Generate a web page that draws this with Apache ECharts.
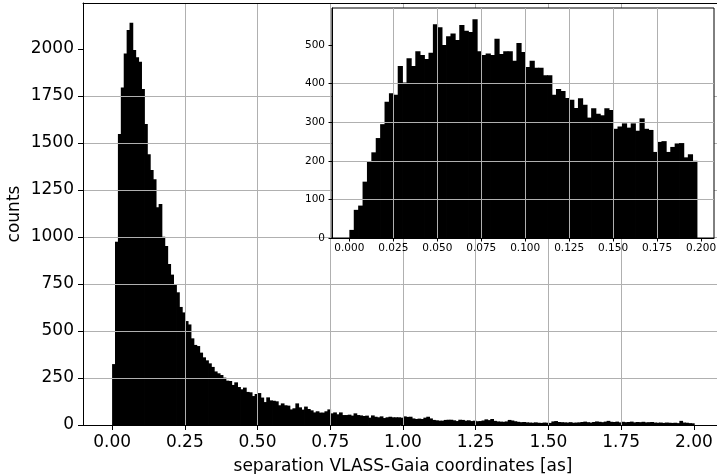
<!DOCTYPE html>
<html>
<head>
<meta charset="utf-8">
<script src="https://cdn.jsdelivr.net/npm/echarts@6/dist/echarts.min.js"></script>
<style>
  html, body { margin: 0; padding: 0; background: #fff; }
  #chart { width: 717px; height: 474px; }
</style>
</head>
<body>
<div id="chart"></div>
<script>
// main histogram: 200 bins of 0.01 from 0 to 2.0
const mainBinStart = 0;
const mainBinWidth = 0.01;
const mainCounts = [
  324, 975, 1548, 1796, 1977, 2101, 2140, 1995, 1956, 1933,
  1787, 1601, 1440, 1356, 1307, 1158, 1176, 1002, 952, 856,
  800, 748, 706, 628, 599, 553, 535, 461, 426, 420,
  385, 360, 344, 328, 309, 285, 275, 266, 252, 236,
  234, 213, 227, 202, 190, 199, 176, 174, 154, 165,
  170, 146, 122, 147, 131, 129, 126, 105, 115, 105,
  103, 83, 89, 115, 94, 82, 98, 85, 78, 67,
  73, 66, 66, 73, 83, 62, 67, 57, 67, 53,
  53, 55, 50, 62, 53, 51, 48, 50, 39, 51,
  44, 41, 46, 37, 41, 44, 41, 41, 41, 39,
  46, 43, 44, 35, 32, 34, 32, 39, 44, 35,
  27, 25, 23, 23, 27, 28, 28, 25, 21, 28,
  27, 23, 25, 21, 23, 20, 21, 24, 30, 26,
  32, 22, 19, 18, 17, 19, 27, 24, 20, 17,
  15, 16, 14, 13, 12, 14, 12, 11, 13, 12,
  11, 19, 21, 16, 15, 14, 13, 15, 12, 13,
  14, 16, 18, 15, 13, 16, 19, 17, 15, 18,
  22, 17, 16, 18, 14, 17, 15, 16, 18, 14,
  16, 15, 17, 14, 15, 16, 13, 12, 13, 11,
  13, 12, 11, 12, 10, 22, 13, 12, 10, 9
];
const mainXTicks = [0, 0.25, 0.5, 0.75, 1.0, 1.25, 1.5, 1.75, 2.0];
const mainYTicks = [0, 250, 500, 750, 1000, 1250, 1500, 1750, 2000];

// inset histogram: 79 bins of 0.0025 from 0 to 0.1975
const insetBinStart = 0;
const insetBinWidth = 0.0025;
const insetCounts = [
  21, 73, 84, 146, 197, 222, 259, 295, 353, 375, 371, 446, 403, 466, 446, 484, 474, 464, 480, 554, 546, 500, 523, 530, 513, 552,
  537, 534, 567, 484, 474, 478, 474, 516, 477, 484, 484, 459, 505, 482, 443, 459, 441, 441, 422, 422, 371, 386, 381, 363, 358, 337,
  362, 345, 312, 336, 322, 318, 336, 332, 283, 289, 297, 286, 297, 278, 310, 283, 280, 223, 249, 251, 223, 236, 245, 246, 209, 217, 200
];
const insetXTicks = [0, 0.025, 0.05, 0.075, 0.1, 0.125, 0.15, 0.175, 0.2];
const insetYTicks = [0, 100, 200, 300, 400, 500];

const toBins = (counts, start, width) =>
  counts.map((c, i) => [start + i * width, start + (i + 1) * width, c]);

// matplotlib-style filled bin, widened a hair so neighbours merge without seams
const renderBar = (params, api) => {
  const p0 = api.coord([api.value(0), api.value(2)]);
  const p1 = api.coord([api.value(1), 0]);
  return {
    type: 'rect',
    shape: { x: p0[0], y: p0[1], width: p1[0] - p0[0] + 0.8, height: p1[1] - p0[1] },
    style: { fill: '#000' }
  };
};

const font = 'DejaVu Sans';
const gridLine = { show: true, showMinLine: false, showMaxLine: false, lineStyle: { color: '#b0b0b0', width: 1 } };
const blackLine = { show: true, onZero: false, lineStyle: { color: '#000', width: 1 } };

const chart = echarts.init(document.getElementById('chart'));
chart.setOption({
  backgroundColor: '#fff',
  animation: false,
  grid: [
    { left: 83, top: 3, width: 640, bottom: 49, outerBoundsMode: 'none', containLabel: false, show: false, z: 0 },
    { left: 332, top: 8, width: 382, height: 230, outerBoundsMode: 'none', containLabel: false,
      show: true, borderColor: '#000', borderWidth: 1, backgroundColor: '#fff', z: 4 }
  ],
  xAxis: [{
    type: 'value', gridIndex: 0, min: -0.1, max: 2.1, z: 3,
    name: 'separation VLASS-Gaia coordinates [as]', nameLocation: 'middle', nameGap: 33,
    nameMoveOverlap: false,
    nameTextStyle: { fontFamily: font, fontSize: 17, color: '#000' },
    axisLine: blackLine,
    axisTick: { show: true, length: 5, lineStyle: { color: '#000' }, customValues: mainXTicks },
    axisLabel: { fontFamily: font, fontSize: 17, color: '#000', margin: 9, customValues: mainXTicks,
      formatter: v => v.toFixed(2) },
    splitLine: gridLine
  }, {
    type: 'value', gridIndex: 1, min: -0.009875, max: 0.207375, z: 6,
    axisLine: blackLine,
    axisTick: { show: true, length: 3.5, lineStyle: { color: '#000' }, customValues: insetXTicks },
    axisLabel: { fontFamily: font, fontSize: 10.5, color: '#000', margin: 5, customValues: insetXTicks,
      formatter: v => v.toFixed(3) },
    splitLine: gridLine
  }, {
    // top spine of the main axes
    type: 'value', gridIndex: 0, position: 'top', min: -0.1, max: 2.1, z: 3,
    axisLine: blackLine, axisTick: { show: false }, axisLabel: { show: false }, splitLine: { show: false }
  }],
  yAxis: [{
    type: 'value', gridIndex: 0, min: 0, max: 2245, z: 3,
    name: 'counts', nameLocation: 'middle', nameGap: 60,
    nameMoveOverlap: false,
    nameTextStyle: { fontFamily: font, fontSize: 17, color: '#000' },
    axisLine: blackLine,
    axisTick: { show: true, length: 5, lineStyle: { color: '#000' }, customValues: mainYTicks },
    axisLabel: { fontFamily: font, fontSize: 17, color: '#000', margin: 9, customValues: mainYTicks,
      formatter: v => String(v) },
    splitLine: gridLine
  }, {
    type: 'value', gridIndex: 1, min: 0, max: 596, z: 6,
    axisLine: blackLine,
    axisTick: { show: true, length: 3.5, lineStyle: { color: '#000' }, customValues: insetYTicks },
    axisLabel: { fontFamily: font, fontSize: 10.5, color: '#000', margin: 7, customValues: insetYTicks,
      formatter: v => String(v) },
    splitLine: gridLine
  }],
  series: [{
    type: 'custom', xAxisIndex: 0, yAxisIndex: 0, z: 2,
    renderItem: renderBar,
    encode: { x: [0, 1], y: 2 },
    data: toBins(mainCounts, mainBinStart, mainBinWidth)
  }, {
    type: 'custom', xAxisIndex: 1, yAxisIndex: 1, z: 5,
    renderItem: renderBar,
    encode: { x: [0, 1], y: 2 },
    data: toBins(insetCounts, insetBinStart, insetBinWidth)
  }]
});
</script>
</body>
</html>
